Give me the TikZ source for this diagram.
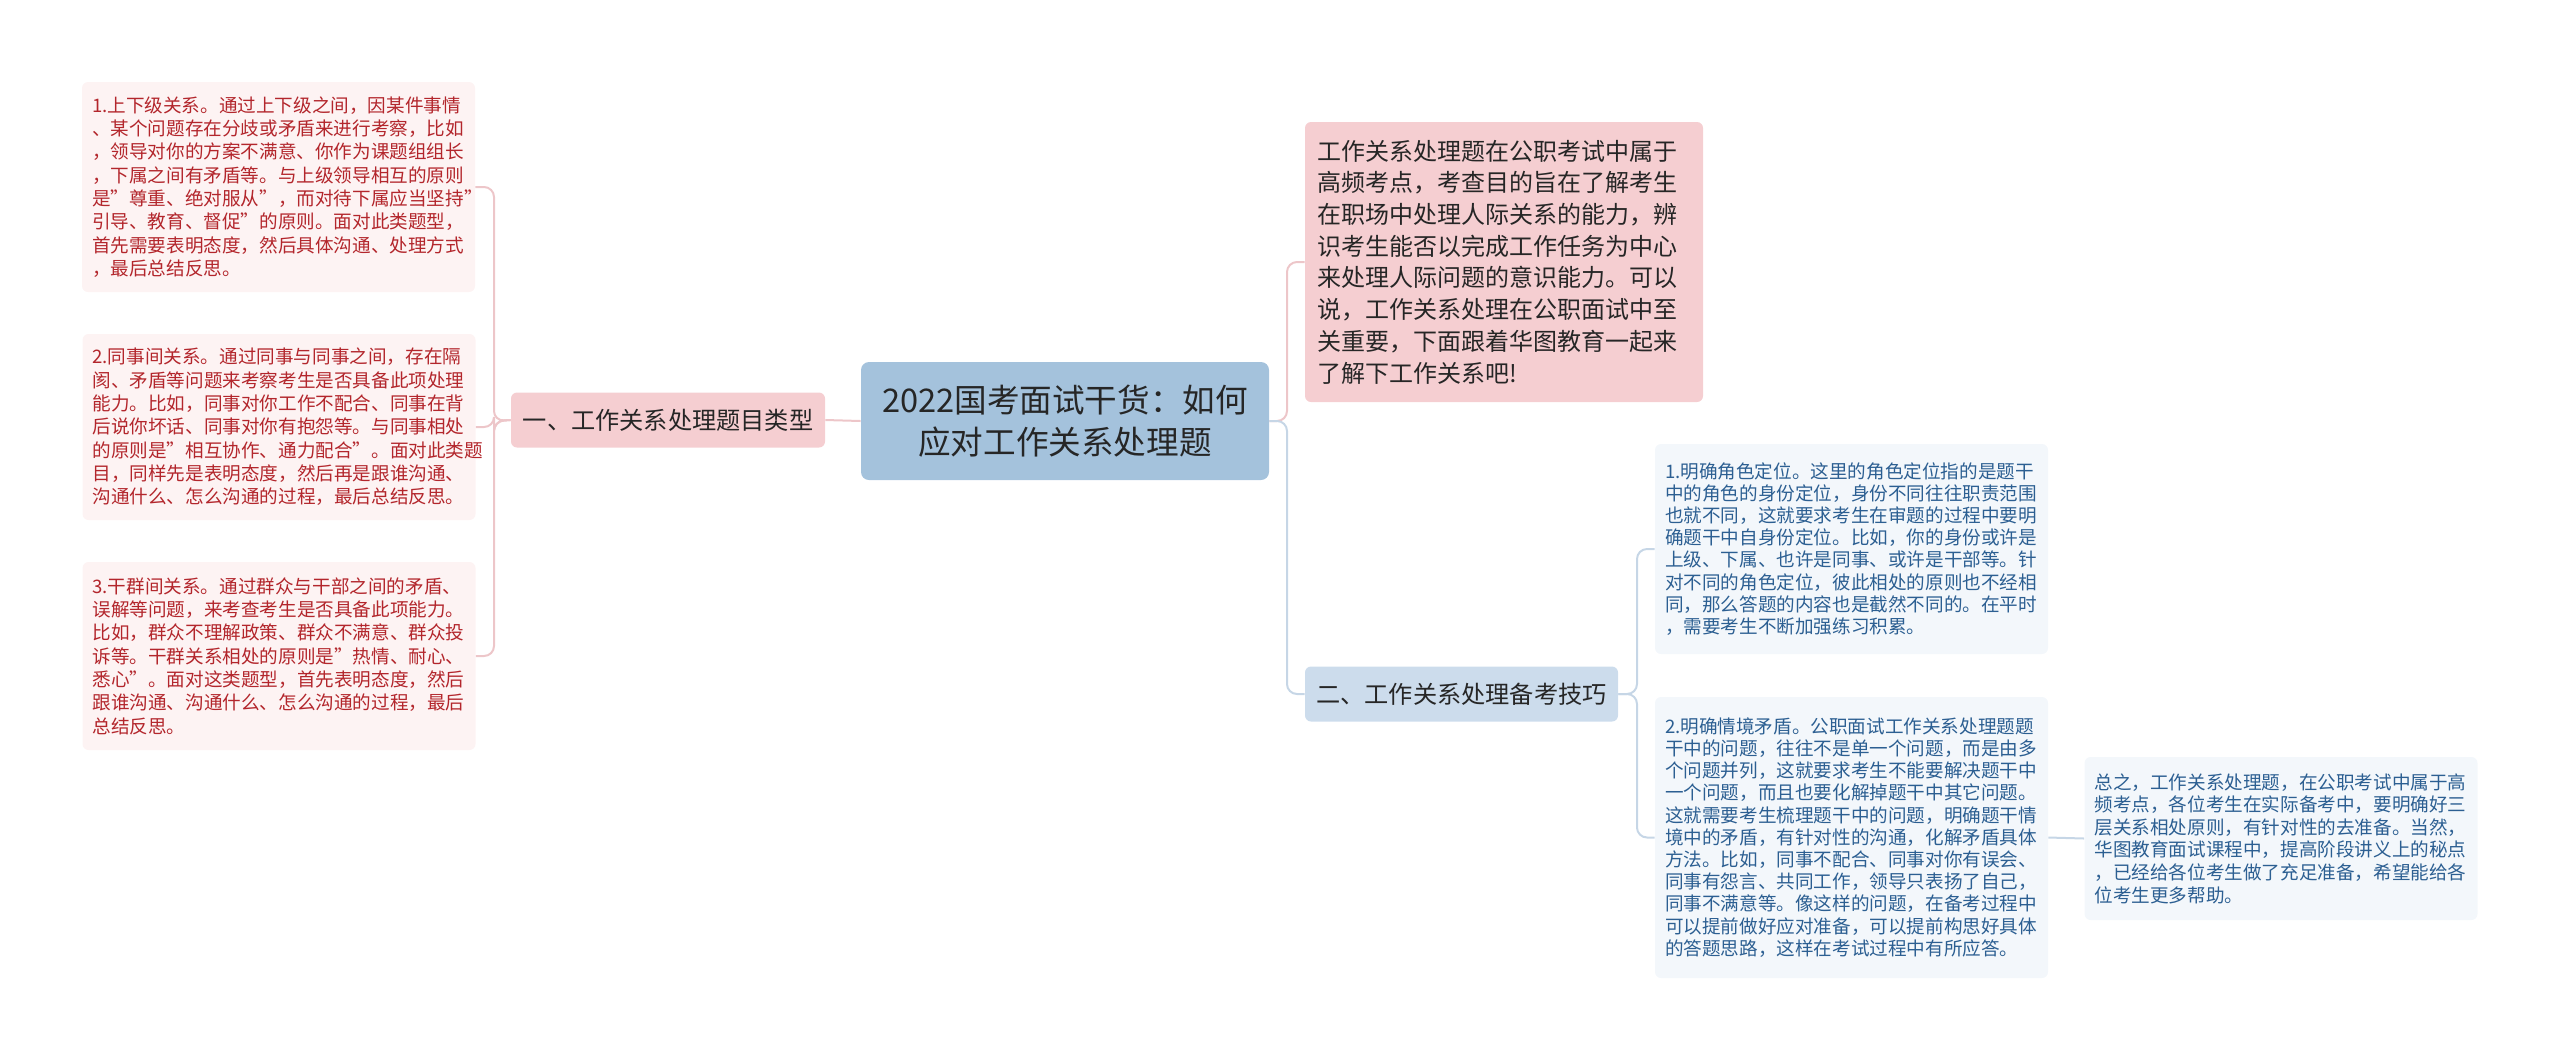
\documentclass[tikz,border=0pt]{standalone}
\usepackage{fontspec}
\setmainfont{Noto Sans CJK SC}
\usepackage{tikz}
\definecolor{rootblue}{HTML}{A4C2DC}
\definecolor{pinkfill}{HTML}{F5CED1}
\definecolor{bluefill}{HTML}{CCDCEC}
\definecolor{pinkleaf}{HTML}{FDF3F3}
\definecolor{blueleaf}{HTML}{F3F7FB}
\definecolor{redtext}{HTML}{B3262C}
\definecolor{bluetext}{HTML}{2C5F92}
\definecolor{pinkline}{HTML}{EDC6C9}
\definecolor{blueline}{HTML}{C6D6E6}
\definecolor{darktext}{HTML}{262626}

\begin{document}
\begin{tikzpicture}[x=0.5pt,y=-0.5pt,
  rootbox/.style={rectangle,rounded corners=4pt,fill=rootblue,text=darktext,align=center,minimum width=204pt,minimum height=59pt,inner sep=3pt,font=\fontsize{16.3}{21}\selectfont},
  topicbox/.style={rectangle,rounded corners=3pt,text=darktext,align=center,minimum height=27.5pt,inner sep=3pt,font=\fontsize{12.1}{15}\selectfont},
  introbox/.style={rectangle,rounded corners=3pt,fill=pinkfill,text=darktext,align=left,text width=187pt,inner xsep=6pt,inner ysep=3pt,minimum height=140pt,font=\fontsize{12}{15.85}\selectfont},
  redleaf/.style={rectangle,rounded corners=3pt,fill=pinkleaf,text=redtext,align=left,text width=186.5pt,inner xsep=5pt,inner ysep=3pt,font=\fontsize{9.3}{11.65}\selectfont},
  blueleafbox/.style={rectangle,rounded corners=3pt,fill=blueleaf,text=bluetext,align=left,text width=186.5pt,inner xsep=5pt,inner ysep=3pt,font=\fontsize{9.3}{11.1}\selectfont},
  lconn/.style={draw=pinkline,line width=1pt,rounded corners=5pt},
  rconn/.style={draw=blueline,line width=1pt,rounded corners=5pt}]
\useasboundingbox (0,0) rectangle (2560,1062);

% centre
\node[rootbox] (root) at (1065,421) {2022国考面试干货：如何\\应对工作关系处理题};

% left side
\node[topicbox,fill=pinkfill,minimum width=157pt] (types) at (668,420) {一、工作关系处理题目类型};
\node[redleaf,minimum height=105pt] (boss) at (278.5,187) {1.上下级关系。通过上下级之间，因某件事情\\、某个问题存在分歧或矛盾来进行考察，比如\\，领导对你的方案不满意、你作为课题组组长\\，下属之间有矛盾等。与上级领导相互的原则\\是"尊重、绝对服从"，而对待下属应当坚持"\\引导、教育、督促"的原则。面对此类题型，\\首先需要表明态度，然后具体沟通、处理方式\\，最后总结反思。};
\node[redleaf,minimum height=93pt] (peers) at (279,427) {2.同事间关系。通过同事与同事之间，存在隔\\阂、矛盾等问题来考察考生是否具备此项处理\\能力。比如，同事对你工作不配合、同事在背\\后说你坏话、同事对你有抱怨等。与同事相处\\的原则是"相互协作、通力配合"。面对此类题\\目，同样先是表明态度，然后再是跟谁沟通、\\沟通什么、怎么沟通的过程，最后总结反思。};
\node[redleaf,minimum height=94pt] (masses) at (279,656) {3.干群间关系。通过群众与干部之间的矛盾、\\误解等问题，来考查考生是否具备此项能力。\\比如，群众不理解政策、群众不满意、群众投\\诉等。干群关系相处的原则是"热情、耐心、\\悉心"。面对这类题型，首先表明态度，然后\\跟谁沟通、沟通什么、怎么沟通的过程，最后\\总结反思。};

% right side
\node[introbox] (intro) at (1504,262) {工作关系处理题在公职考试中属于\\高频考点，考查目的旨在了解考生\\在职场中处理人际关系的能力，辨\\识考生能否以完成工作任务为中心\\来处理人际问题的意识能力。可以\\说，工作关系处理在公职面试中至\\关重要，下面跟着华图教育一起来\\了解下工作关系吧!};
\node[topicbox,fill=bluefill,minimum width=156.5pt] (tips) at (1461.5,694) {二、工作关系处理备考技巧};
\node[blueleafbox,minimum height=105pt] (role) at (1851.5,549) {1.明确角色定位。这里的角色定位指的是题干\\中的角色的身份定位，身份不同往往职责范围\\也就不同，这就要求考生在审题的过程中要明\\确题干中自身份定位。比如，你的身份或许是\\上级、下属、也许是同事、或许是干部等。针\\对不同的角色定位，彼此相处的原则也不经相\\同，那么答题的内容也是截然不同的。在平时\\，需要考生不断加强练习积累。};
\node[blueleafbox,minimum height=140.5pt] (conflict) at (1851.5,837.5) {2.明确情境矛盾。公职面试工作关系处理题题\\干中的问题，往往不是单一个问题，而是由多\\个问题并列，这就要求考生不能要解决题干中\\一个问题，而且也要化解掉题干中其它问题。\\这就需要考生梳理题干中的问题，明确题干情\\境中的矛盾，有针对性的沟通，化解矛盾具体\\方法。比如，同事不配合、同事对你有误会、\\同事有怨言、共同工作，领导只表扬了自己，\\同事不满意等。像这样的问题，在备考过程中\\可以提前做好应对准备，可以提前构思好具体\\的答题思路，这样在考试过程中有所应答。};
\node[blueleafbox,minimum height=81.5pt,font=\fontsize{9.3}{11.3}\selectfont] (summary) at (2281,838.5) {总之，工作关系处理题，在公职考试中属于高\\频考点，各位考生在实际备考中，要明确好三\\层关系相处原则，有针对性的去准备。当然，\\华图教育面试课程中，提高阶段讲义上的秘点\\，已经给各位考生做了充足准备，希望能给各\\位考生更多帮助。};

% connectors
\coordinate (lspine) at (494,421);
\coordinate (rspine) at (1287,421);
\coordinate (tspine) at (1637,694);
\draw[lconn] (root.west) -- (types.east);
\draw[lconn] (types.west) -- (lspine) |- (boss.east);
\draw[lconn] (types.west) -- (lspine) |- (peers.east);
\draw[lconn] (types.west) -- (lspine) |- (masses.east);
\draw[lconn] (root.east) -- (rspine) |- (intro.west);
\draw[rconn] (root.east) -- (rspine) |- (tips.west);
\draw[rconn] (tips.east) -- (tspine) |- (role.west);
\draw[rconn] (tips.east) -- (tspine) |- (conflict.west);
\draw[rconn] (conflict.east) -- (summary.west);
\end{tikzpicture}
\end{document}
